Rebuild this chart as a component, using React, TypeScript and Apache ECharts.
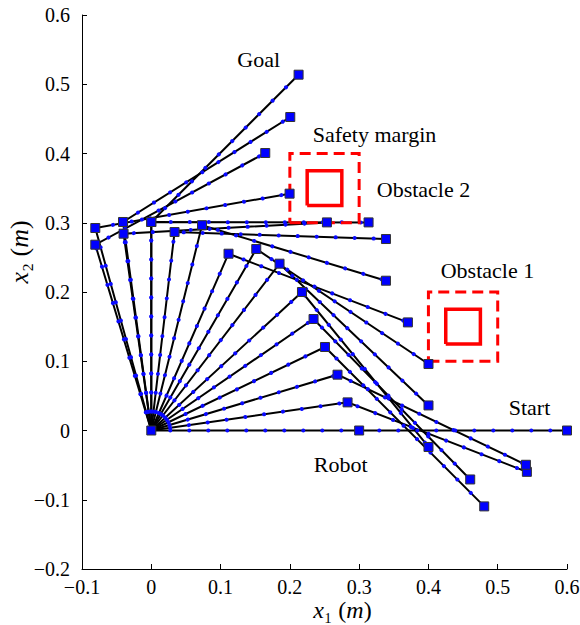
import React, { useEffect, useRef } from 'react';
import * as echarts from 'echarts';

// Robot base
const baseX = 0;
const baseY = 0;

// Elbow joint positions for each configuration (m)
const elbowX = [0.3, 0.2833, 0.2688, 0.2507, 0.2342, 0.2175, 0.1851, 0.1515, 0.1115, 0.0732, 0.0336, 0.0, -0.04, -0.0808, -0.0808, -0.0408, 0.0];
const elbowY = [0.0, 0.0406, 0.0806, 0.1206, 0.161, 0.2, 0.2409, 0.2621, 0.2553, 0.2965, 0.2866, 0.3011, 0.2842, 0.2924, 0.2683, 0.3011, 0.3011];

// End-effector positions for each configuration (m)
const endX = [0.6, 0.5421, 0.5407, 0.4805, 0.4603, 0.4001, 0.4001, 0.4001, 0.3704, 0.3387, 0.3387, 0.3136, 0.2535, 0.1996, 0.1645, 0.2006, 0.2126];
const endY = [0.0, -0.0597, -0.0495, -0.1096, -0.0707, -0.0238, 0.0362, 0.096, 0.1561, 0.2163, 0.2765, 0.3005, 0.3005, 0.342, 0.4007, 0.4527, 0.5138];

// Obstacles (centres, sides in m)
const obstacleCX = [0.45, 0.25];
const obstacleCY = [0.15, 0.35];
const obstacleSide = 0.05;
const marginSide = 0.1;

// Annotation texts and their anchor (left-middle) in data coords
const labelTexts = ['Goal', 'Safety margin', 'Obstacle 2', 'Obstacle 1', 'Start', 'Robot'];
const labelX = [0.1235, 0.2323, 0.3247, 0.417, 0.5152, 0.2338];
const labelY = [0.5355, 0.4272, 0.3478, 0.2308, 0.033, -0.0494];

// Axis ranges
const xMin = -0.1, xMax = 0.6, xStep = 0.1;
const yMin = -0.2, yMax = 0.6, yStep = 0.1;

const FONT = "'Liberation Serif', 'Times New Roman', Times, serif";

function fmt(v: number): string {
  const r = Math.round(v * 10) / 10;
  if (r === 0) return '0';
  return r < 0 ? '\u2212' + String(Math.abs(r)) : String(r);
}

function square(cx: number, cy: number, s: number) {
  const h = s / 2;
  return {
    coords: [
      [cx - h, cy - h],
      [cx + h, cy - h],
      [cx + h, cy + h],
      [cx - h, cy + h],
      [cx - h, cy - h],
    ],
  };
}

export default function App() {
  const ref = useRef<HTMLDivElement>(null);
  useEffect(() => {
    if (!ref.current) return;
    const chart = echarts.init(ref.current, null, { renderer: 'svg' });
    const arms = elbowX.map((_, i) => ({
      coords: [
        [baseX, baseY],
        [elbowX[i], elbowY[i]],
        [endX[i], endY[i]],
      ],
    }));
    const squares: number[][] = [[baseX, baseY]];
    elbowX.forEach((x, i) => squares.push([x, elbowY[i]]));
    endX.forEach((x, i) => squares.push([x, endY[i]]));
    const obst = obstacleCX.map((cx, i) => square(cx, obstacleCY[i], obstacleSide));
    const margins = obstacleCX.map((cx, i) => square(cx, obstacleCY[i], marginSide));
    const labels = labelTexts.map((t, i) => ({ value: [labelX[i], labelY[i]], name: t }));

    const axisCommon = {
      type: 'value',
      axisLine: { show: true, onZero: false, lineStyle: { color: '#000', width: 1 } },
      axisTick: { show: true, inside: true, length: 5, lineStyle: { color: '#000', width: 1 } },
      splitLine: { show: false },
      nameMoveOverlap: false,
      axisLabel: {
        color: '#000',
        fontFamily: FONT,
        fontSize: 20,
        formatter: (v: number) => fmt(v),
      },
    };

    chart.setOption({
      animation: false,
      backgroundColor: '#fff',
      textStyle: { fontFamily: FONT },
      grid: { left: 82, right: 13, top: 15, bottom: 56, containLabel: false, outerBoundsMode: 'none' },
      xAxis: {
        ...axisCommon,
        min: xMin,
        max: xMax,
        interval: xStep,
        axisLabel: { ...axisCommon.axisLabel, margin: 8 },
        name: '{i|x}\u2081 ({i|m})',
        nameLocation: 'middle',
        nameGap: 29,
        nameTextStyle: {
          color: '#000',
          fontFamily: FONT,
          fontSize: 24,
          lineHeight: 24,
          padding: [0, 0, 0, 36],
          rich: { i: { fontStyle: 'italic', fontFamily: FONT, fontSize: 24, lineHeight: 24, color: '#000' } },
        },
      },
      yAxis: {
        ...axisCommon,
        min: yMin,
        max: yMax,
        interval: yStep,
        axisLabel: { ...axisCommon.axisLabel, margin: 12 },
        name: '{i|x}\u2082 ({i|m})',
        nameLocation: 'middle',
        nameRotate: 90,
        nameGap: 50,
        nameTextStyle: {
          color: '#000',
          fontFamily: FONT,
          fontSize: 26,
          padding: [0, 0, 0, 80],
          rich: { i: { fontStyle: 'italic', fontFamily: FONT, fontSize: 26, color: '#000' } },
        },
      },
      series: [
        {
          type: 'lines',
          coordinateSystem: 'cartesian2d',
          polyline: true,
          silent: true,
          data: arms,
          lineStyle: { color: '#000', width: 2, opacity: 1, curveness: 0 },
          z: 2,
        },
        {
          type: 'lines',
          coordinateSystem: 'cartesian2d',
          polyline: true,
          silent: true,
          data: arms,
          lineStyle: { color: '#0a0aff', width: 4, opacity: 1, type: [0.001, 19], cap: 'round', dashOffset: -19 },
          z: 3,
        },
        {
          type: 'lines',
          coordinateSystem: 'cartesian2d',
          polyline: true,
          silent: true,
          data: margins,
          lineStyle: { color: '#ff0000', width: 3, opacity: 1, type: [11, 6] },
          z: 4,
        },
        {
          type: 'lines',
          coordinateSystem: 'cartesian2d',
          polyline: true,
          silent: true,
          data: obst,
          lineStyle: { color: '#ff0000', width: 3.5, opacity: 1, join: 'miter' },
          z: 4,
        },
        {
          type: 'scatter',
          silent: true,
          data: squares,
          symbol: 'rect',
          symbolSize: 9,
          itemStyle: { color: '#0000ff', borderColor: '#333', borderWidth: 1, opacity: 1 },
          z: 5,
        },
        {
          type: 'scatter',
          silent: true,
          data: labels,
          symbol: 'circle',
          symbolSize: 1,
          itemStyle: { color: 'rgba(0,0,0,0)', opacity: 1 },
          label: {
            show: true,
            position: 'right',
            distance: 0,
            formatter: '{b}',
            color: '#000',
            fontFamily: FONT,
            fontSize: 22,
          },
          labelLayout: { hideOverlap: false },
          z: 6,
        },
      ],
    });
    return () => chart.dispose();
  }, []);
  return <div ref={ref} style={{ position: 'absolute', left: 0, top: 0, width: 580, height: 625 }} />;
}
